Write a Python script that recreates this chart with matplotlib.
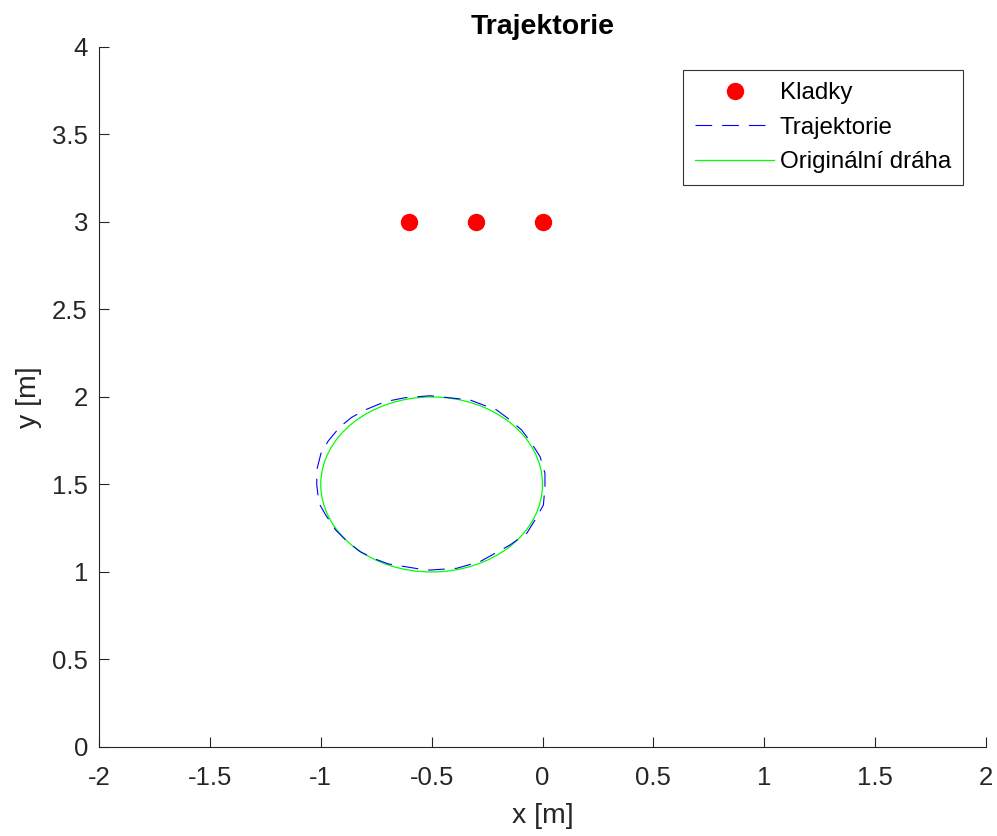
import matplotlib
matplotlib.use("Agg")
import matplotlib.pyplot as plt
from matplotlib.patches import Circle
from matplotlib.lines import Line2D

plt.rcParams['font.family'] = ['Liberation Sans', 'DejaVu Sans']
plt.rcParams['axes.unicode_minus'] = False

# pulley positions (Kladky)
kladky_x = [-0.6, -0.3, 0.0]
kladky_y = [3.0, 3.0, 3.0]

# computed trajectory
traj_x = [0.011, 0.011, -0.011, -0.049, -0.094, -0.147, -0.207, -0.267, -0.327,
          -0.507, -0.620, -0.710, -0.800, -0.860, -0.913, -0.966, -0.999, -1.018,
          -1.018, -1.008, -0.978, -0.933, -0.883, -0.823, -0.755, -0.695, -0.545,
          -0.507, -0.387, -0.282, -0.147, -0.071, -0.029, 0.004, 0.011]
traj_y = [1.487, 1.564, 1.659, 1.735, 1.811, 1.869, 1.926, 1.954, 1.983,
          2.007, 1.996, 1.973, 1.926, 1.884, 1.830, 1.749, 1.678, 1.583,
          1.497, 1.393, 1.326, 1.240, 1.177, 1.116, 1.074, 1.046, 1.015,
          1.011, 1.021, 1.059, 1.154, 1.221, 1.307, 1.383, 1.487]

# original path: circle
orig_center = (-0.5, 1.5)
orig_radius = 0.5

x_ticks = [-2, -1.5, -1, -0.5, 0, 0.5, 1, 1.5, 2]
x_tick_labels = ['-2', '-1.5', '-1', '-0.5', '0', '0.5', '1', '1.5', '2']
y_ticks = [0, 0.5, 1, 1.5, 2, 2.5, 3, 3.5, 4]
y_tick_labels = ['0', '0.5', '1', '1.5', '2', '2.5', '3', '3.5', '4']

axis_color = '#262626'

fig = plt.figure(figsize=(9.97, 8.36), dpi=100)
ax = fig.add_axes([0.0993, 0.1065, 0.8897, 0.8373])

ax.plot(kladky_x, kladky_y, 'o', color='red', markersize=11.5, linestyle='none')
ax.plot(traj_x, traj_y, color='blue', linewidth=0.8, dashes=(15, 9))
ax.add_patch(Circle(orig_center, orig_radius, fill=False, edgecolor='#00ff00', linewidth=0.9))

ax.set_xlim(-2, 2)
ax.set_ylim(0, 4)
ax.set_xticks(x_ticks)
ax.set_xticklabels(x_tick_labels)
ax.set_yticks(y_ticks)
ax.set_yticklabels(y_tick_labels)

for side in ['top', 'right']:
    ax.spines[side].set_visible(False)
for side in ['left', 'bottom']:
    ax.spines[side].set_linewidth(0.8)
    ax.spines[side].set_color(axis_color)

ax.tick_params(direction='in', length=7, width=0.8, color=axis_color,
               labelcolor=axis_color, labelsize=18.5)
ax.tick_params(axis='x', pad=14)
ax.tick_params(axis='y', pad=8)

ax.set_xlabel('x [m]', fontsize=20.5, color=axis_color, labelpad=9)
ax.set_ylabel('y [m]', fontsize=20.5, color=axis_color, labelpad=7)
ax.set_title('Trajektorie', fontsize=20.5, fontweight='bold', pad=9)

handles = [
    Line2D([], [], marker='o', color='red', linestyle='none', markersize=11.5),
    Line2D([], [], color='blue', linewidth=0.8, dashes=(15, 9)),
    Line2D([], [], color='#00ff00', linewidth=0.9),
]
leg = ax.legend(handles, ['Kladky', 'Trajektorie', 'Originální dráha'],
                loc='upper right', fontsize=17.4, frameon=True, fancybox=False,
                edgecolor='black', borderaxespad=0.95, handlelength=3.3,
                handletextpad=0.22, labelspacing=0.52, borderpad=0.5)
leg.get_frame().set_linewidth(0.8)

fig.savefig('out.png', dpi=100)
